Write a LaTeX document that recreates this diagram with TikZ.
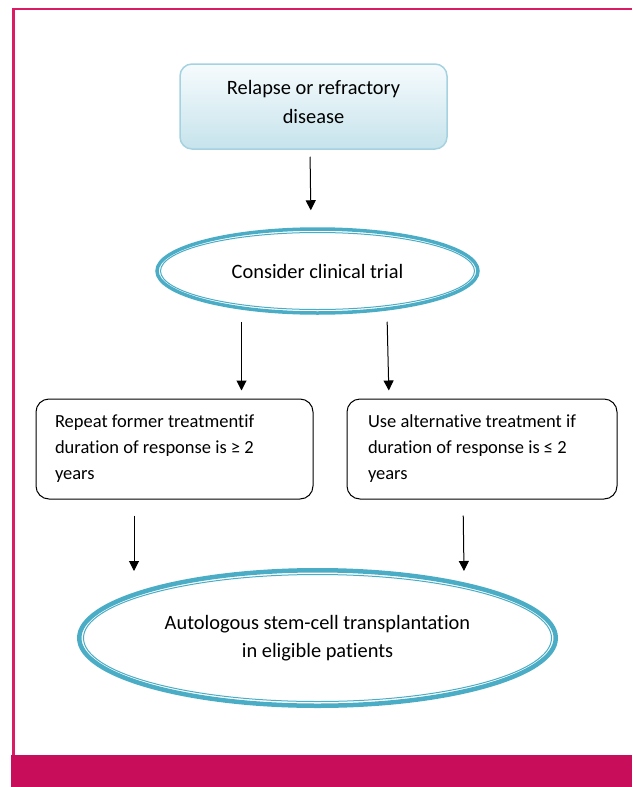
\documentclass[tikz,border=0pt]{standalone}
\usepackage{fontspec}
\setmainfont{Carlito}[Ligatures=NoCommon]
\usepackage{tikz}
\usetikzlibrary{arrows.meta,shapes.geometric,positioning,calc}
\definecolor{framepink}{RGB}{218,28,100}
\definecolor{bandpink}{RGB}{200,14,90}
\definecolor{ovalblue}{RGB}{75,172,198}
\definecolor{boxedge}{RGB}{165,210,225}
\definecolor{boxtop}{RGB}{246,251,253}
\definecolor{boxbottom}{RGB}{198,227,236}

\begin{document}
\begin{tikzpicture}[
		x=1pt, y=-1pt,
		font=\fontsize{20.4}{28}\selectfont,
		startbox/.style={rectangle, rounded corners=12pt, draw=boxedge, line width=1.5pt,
			top color=boxtop, bottom color=boxbottom, align=flush center, inner sep=0pt,
			minimum width=267pt, minimum height=85pt, text depth=9pt,
			font=\fontsize{20.4}{29}\selectfont},
		oval/.style={ellipse, draw=ovalblue, align=flush center, inner sep=0pt},
		innerline/.style={draw=ovalblue, line width=1pt},
		choice/.style={rectangle, rounded corners=13pt, draw, line width=1pt,
			align=flush left, inner ysep=0pt, minimum height=100pt,
			font=\fontsize{18.5}{26}\selectfont},
		arr/.style={-{Triangle[width=10pt,length=10pt]}, line width=1pt}
		]
	\useasboundingbox (0,0) rectangle (632,787);

	% --- cadre et bandeau ---
	\draw[framepink, line width=2.5pt] (632,9.2) -- (13.5,9.2) -- (13.5,755);
	\fill[bandpink] (11,755) rectangle (632,787);

	% --- noeuds ---
	\node[startbox] (relapse) at (313.5,106.5) {Relapse or refractory\\disease};
	\node[oval, line width=3.5pt, minimum width=321pt, minimum height=84pt] (trial) at (317.5,271) {Consider clinical trial};
	\draw[innerline] (trial.center) ellipse [x radius=157, y radius=38.5];

	\node[choice, text width=239pt, inner xsep=19pt] (repeat) at (174.5,449)
		{Repeat former treatmentif\\duration of response is ≥ 2\\years};
	\node[choice, text width=228pt, inner xsep=21pt] (altern) at (482,449)
		{Use alternative treatment if\\duration of response is ≤ 2\\years};

	\node[oval, line width=4.5pt, minimum width=476.5pt, minimum height=135.5pt] (asct) at (317.5,638)
		{Autologous stem-cell transplantation\\in eligible patients};
	\draw[innerline] (asct.center) ellipse [x radius=234, y radius=63.5];

	% --- flèches ---
	\draw[arr, shorten <=7pt, shorten >=17pt] ([xshift=-3.5pt]relapse.south) -- ([xshift=-6.5pt]trial.north);
	\draw[arr, shorten <=7pt, shorten >=8pt] ([xshift=-76pt]trial.south) -- ([xshift=67pt]repeat.north);
	\draw[arr, shorten <=7pt, shorten >=8pt] ([xshift=69.5pt]trial.south) -- ([xshift=-93pt]altern.north);
	\draw[arr, shorten <=16pt] ([xshift=-40.5pt]repeat.south) -- ([xshift=-183.5pt,yshift=-3pt]asct.north);
	\draw[arr, shorten <=16pt] ([xshift=-19pt]altern.south) -- ([xshift=146.5pt,yshift=-3pt]asct.north);

\end{tikzpicture}
\end{document}
